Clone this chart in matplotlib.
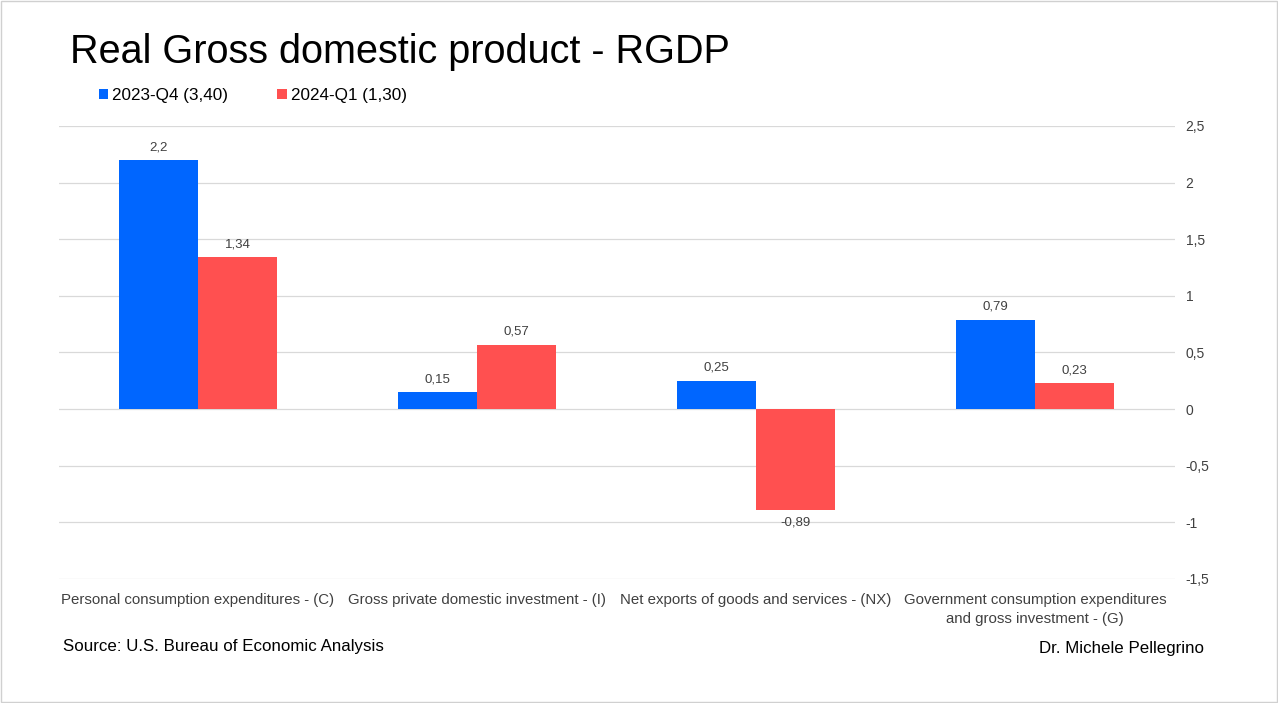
import numpy as np
import matplotlib.pyplot as plt
from matplotlib.patches import Rectangle
from matplotlib.ticker import FuncFormatter

##Data
categories = ["Personal consumption expenditures - (C)",
              "Gross private domestic investment - (I)",
              "Net exports of goods and services - (NX)",
              "Government consumption expenditures\nand gross investment - (G)"]
q4_2023 = [2.2, 0.15, 0.25, 0.79]
q1_2024 = [1.34, 0.57, -0.89, 0.23]
series_names = ["2023-Q4 (3,40)", "2024-Q1 (1,30)"]
y_ticks = [-1.5, -1, -0.5, 0, 0.5, 1, 1.5, 2, 2.5]

blue = "#0066FF"
red = "#FF5050"

plt.rcParams['font.family'] = ['Liberation Sans', 'DejaVu Sans']

fig = plt.figure(figsize=(12.78, 7.03), dpi=100)
ax = fig.add_axes([58.5/1278, 0.1764, 1116/1278, 0.6444])

x = np.arange(len(categories))
w = 0.283
b1 = ax.bar(x - w/2, q4_2023, w, color=blue, label=series_names[0], zorder=3)
b2 = ax.bar(x + w/2, q1_2024, w, color=red, label=series_names[1], zorder=3)

def comma(v):
    s = f"{v:g}"
    return s.replace('.', ',')

##Value labels
for bars, vals in [(b1, q4_2023), (b2, q1_2024)]:
    for rect, v in zip(bars, vals):
        cx = rect.get_x() + rect.get_width()/2
        if v >= 0:
            ax.annotate(comma(v), (cx, v), xytext=(0, 5), textcoords='offset points',
                        ha='center', va='bottom', fontsize=9.5, color='#404040')
        else:
            ax.annotate(comma(v), (cx, v), xytext=(0, -5), textcoords='offset points',
                        ha='center', va='top', fontsize=9.5, color='#404040')

ax.set_xlim(-0.5, len(categories) - 0.5)
ax.set_ylim(-1.5, 2.5)
ax.set_yticks(y_ticks)
ax.yaxis.set_major_formatter(FuncFormatter(lambda v, p: comma(v)))
ax.yaxis.tick_right()
ax.tick_params(axis='y', length=0, pad=8, labelsize=10, labelcolor='#404040')
ax.set_xticks(x)
ax.set_xticklabels(categories, fontsize=10.8, color='#404040', linespacing=1.45)
ax.tick_params(axis='x', length=0, pad=10)
ax.grid(axis='y', color='#D9D9D9', linewidth=0.9, zorder=0)
for s in ax.spines.values():
    s.set_visible(False)

##Legend
fig.legend(handles=[b1, b2], loc='center left', bbox_to_anchor=(0.0653, 0.864),
           ncol=2, frameon=False, fontsize=12.3, handlelength=0.55, handleheight=0.55,
           handletextpad=0.25, columnspacing=2.85)

fig.text(0.055, 0.926, "Real Gross domestic product - RGDP", fontsize=28.5,
         ha='left', va='center')
fig.text(0.049, 0.081, "Source: U.S. Bureau of Economic Analysis", fontsize=12.2,
         ha='left', va='center')
fig.text(0.942, 0.078, "Dr. Michele Pellegrino", fontsize=12.2,
         ha='right', va='center')

##Figure border
fig.patches.append(Rectangle((0.001, 0.001), 0.998, 0.998, transform=fig.transFigure,
                             fill=False, edgecolor='#D0D0D0', linewidth=1))

fig.savefig("out.png", dpi=100)
